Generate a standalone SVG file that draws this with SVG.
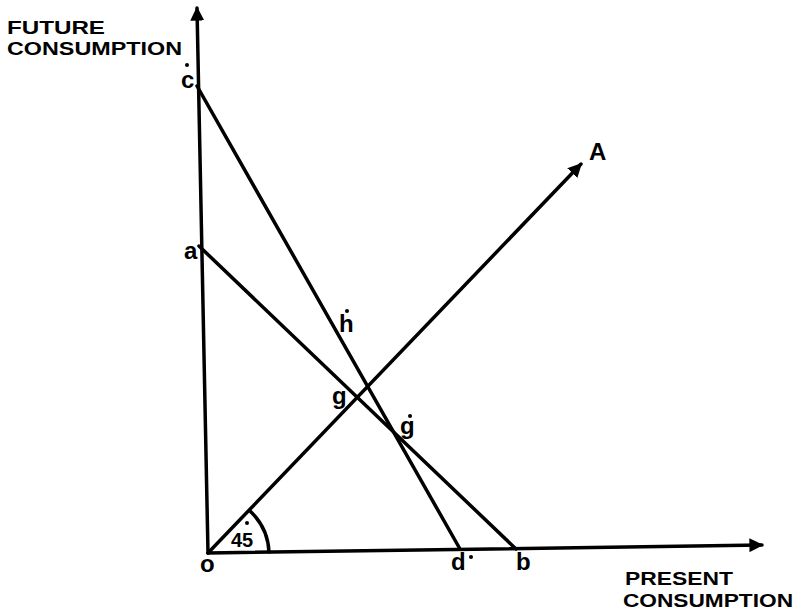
<svg xmlns="http://www.w3.org/2000/svg" width="801" height="615" viewBox="0 0 801 615">
<style>
.ln{stroke:#000;stroke-width:3.5;fill:none;stroke-linecap:round}
.ttl{font-family:"Liberation Sans",Arial,sans-serif;font-weight:bold;font-size:18px;fill:#000}
.lb{font-family:"Liberation Sans",Arial,sans-serif;font-weight:bold;font-size:24px;fill:#000}
.dot{fill:#000}
</style>
<defs>
<marker id="ah" viewBox="0 0 10 10" refX="9" refY="5" markerWidth="4" markerHeight="4" orient="auto" markerUnits="strokeWidth">
<path d="M0,0 L10,5 L0,10 z" fill="#000"/>
</marker>
</defs>
<rect width="801" height="615" fill="#fff"/>
<g id="connectors">
<line class="ln" x1="208" y1="553" x2="197" y2="8" marker-end="url(#ah)"/>
<line class="ln" x1="208" y1="553" x2="762" y2="545" marker-end="url(#ah)"/>
<line class="ln" x1="208" y1="553" x2="581" y2="164" marker-end="url(#ah)"/>
<line class="ln" x1="197" y1="86" x2="460" y2="549"/>
<line class="ln" x1="199" y1="246" x2="516" y2="549"/>
<path class="ln" d="M250,511 A60,60 0 0 1 269,552"/>
</g>
<g id="axis-labels">
<text class="ttl" x="7" y="34" textLength="98" lengthAdjust="spacingAndGlyphs">FUTURE</text>
<text class="ttl" x="7" y="55" textLength="175" lengthAdjust="spacingAndGlyphs">CONSUMPTION</text>
<text class="ttl" x="625" y="585" textLength="108" lengthAdjust="spacingAndGlyphs" style="font-size:19px">PRESENT</text>
<text class="ttl" x="623" y="607" textLength="170" lengthAdjust="spacingAndGlyphs" style="font-size:19px">CONSUMPTION</text>
</g>
<g id="label-c"><text class="lb" x="181" y="88">c</text><circle class="dot" cx="187" cy="65" r="2"/></g>
<g id="label-a"><text class="lb" x="184" y="259">a</text></g>
<g id="label-h"><text class="lb" x="339" y="332">h</text><circle class="dot" cx="347" cy="311" r="2"/></g>
<g id="label-g"><text class="lb" x="332" y="404">g</text></g>
<g id="label-g2"><text class="lb" x="400" y="434">g</text><circle class="dot" cx="410" cy="416" r="2"/></g>
<g id="label-o"><text class="lb" x="200" y="572">o</text></g>
<g id="label-d"><text class="lb" x="451" y="570">d</text><circle class="dot" cx="471" cy="557" r="2"/></g>
<g id="label-b"><text class="lb" x="516" y="570">b</text></g>
<g id="label-A"><text class="lb" x="589" y="160">A</text></g>
<g id="angle"><text class="lb" x="231" y="547" style="font-size:20px">45</text><circle class="dot" cx="247" cy="523" r="2"/></g>
</svg>
